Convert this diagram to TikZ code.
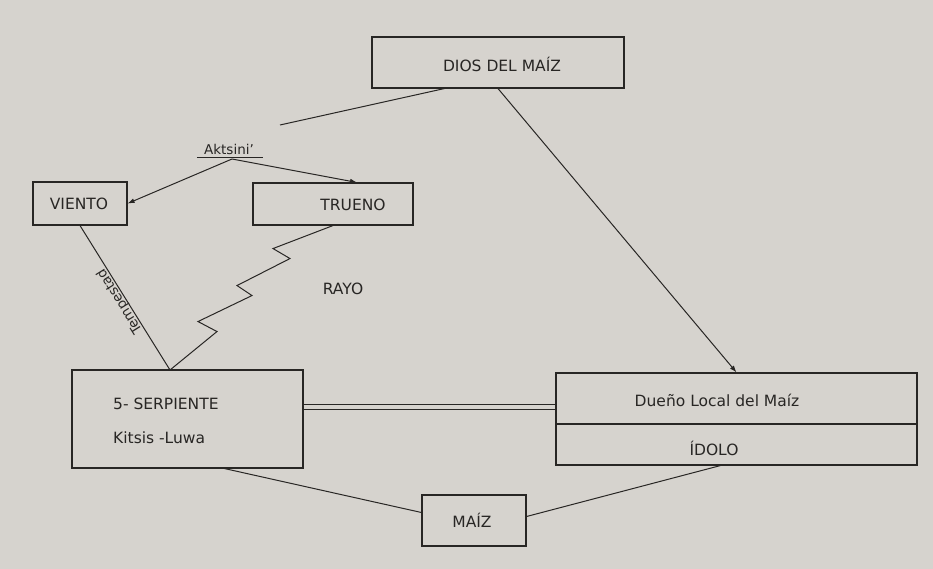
\documentclass[tikz,border=0pt]{standalone}
\usepackage{fontspec}
\setmainfont{DejaVu Sans}
\usepackage{tikz}
\usetikzlibrary{arrows.meta,positioning,calc}

\definecolor{paper}{RGB}{214,211,206}
\definecolor{ink}{RGB}{40,38,36}

\begin{document}
\begin{tikzpicture}[
  x=1pt, y=-1pt,
  box/.style={draw=ink, line width=1.1pt, rectangle, inner sep=0pt},
  txt/.style={draw=none, text=ink, font=\fontsize{15.5}{18}\selectfont, inner sep=1pt},
  small/.style={txt, font=\fontsize{13.5}{16}\selectfont},
  arr/.style={draw=ink, line width=1pt, -{Latex[length=7pt,width=5pt]}},
  lnk/.style={draw=ink, line width=1pt}
]
  \fill[paper] (0,0) rectangle (933,569);
  \useasboundingbox (0,0) rectangle (933,569);

  % boxes
  \node[box, minimum width=252, minimum height=51] (dios)   at (498,62.5)  {};
  \node[box, minimum width=94,  minimum height=43] (viento) at (80,203.5)  {};
  \node[box, minimum width=160, minimum height=42] (trueno) at (333,204)   {};
  \node[box, minimum width=231, minimum height=98] (serp)   at (187.5,419) {};
  \node[box, minimum width=361, minimum height=51] (dueno)  at (736.5,398.5) {};
  \node[box, minimum width=361, minimum height=41] (idolo)  at (736.5,444.5) {};
  \node[box, minimum width=104, minimum height=51] (maiz)   at (474,520.5) {};

  % texts
  \node[txt] (diosT)   at (502,64)  {DIOS DEL MAÍZ};
  \node[txt] (vientoT) at (79,204)  {VIENTO};
  \node[txt] (truenoT) at (353,205) {TRUENO};
  \node[txt, anchor=west] (serpT)  at (112,404) {5- SERPIENTE};
  \node[txt, anchor=west] (kitsis) at (112,438) {Kitsis -Luwa};
  \node[txt] (duenoT)  at (717,400) {Dueño Local del Maíz};
  \node[txt] (idoloT)  at (714,448) {ÍDOLO};
  \node[txt] (maizT)   at (472,520) {MAÍZ};
  \node[txt] (rayo)    at (343,289) {RAYO};
  \node[small, anchor=south] (akt) at (229,156) {Aktsini'};
  \draw[lnk] ($(akt.south west)+(-6,1.5)$) -- ($(akt.south east)+(8,1.5)$);

  \coordinate (ak)  at (232,159);
  \coordinate (hit) at (170,370);
  \coordinate (dioslink) at (280,125);

  % connectors
  \draw[lnk] ($(dios.south west)+(73,0)$) -- (dioslink);
  \draw[arr] (ak) -- (viento.east);
  \draw[arr] (ak) -- ($(trueno.north)+(24,0)$);
  \draw[arr] (dios.south) -- (dueno.north);
  \draw[lnk] (viento.south) -- node[small, sloped, above=2pt, rotate=180] (temp) {Tempestad} (hit);
  \draw[lnk] (trueno.south)
    -- ++(-60,23) -- ++(17,10) -- ++(-53,27) -- ++(15,10)
    -- ++(-54,26) -- ++(19,10) -- (hit);
  \draw[lnk, double=paper, double distance=4pt] ($(serp.east)+(0,-12)$) -- ($(dueno.west)+(0,8.5)$);
  \draw[lnk] ($(serp.south)+(37,0)$) -- ($(maiz.west)+(0,-8)$);
  \draw[lnk] ($(idolo.south)+(-16,0)$) -- ($(maiz.east)+(0,-4)$);
\end{tikzpicture}
\end{document}
